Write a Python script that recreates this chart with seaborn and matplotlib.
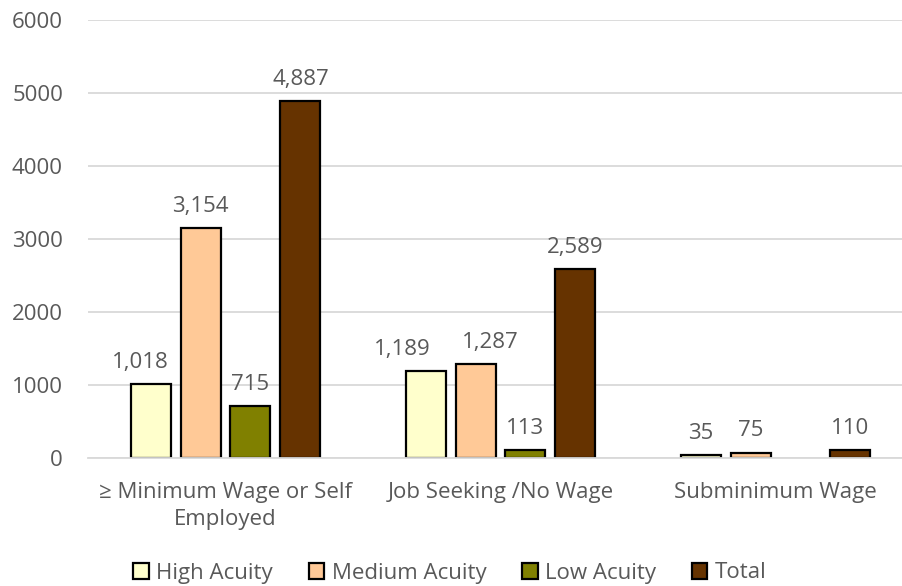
import matplotlib
matplotlib.use("Agg")
import matplotlib.pyplot as plt
import seaborn as sns
import pandas as pd
import numpy as np

categories = ["\u2265 Minimum Wage or Self\nEmployed", "Job Seeking /No Wage", "Subminimum Wage"]
series = ["High Acuity", "Medium Acuity", "Low Acuity", "Total"]
high_acuity = [1018, 1189, 35]
medium_acuity = [3154, 1287, 75]
low_acuity = [715, 113, None]
total = [4887, 2589, 110]
colors = ["#FFFFCC", "#FFC997", "#808000", "#663300"]

rows = []
for s, vals in zip(series, [high_acuity, medium_acuity, low_acuity, total]):
    for c, v in zip(categories, vals):
        if v is not None:
            rows.append({"category": c, "series": s, "value": v})
df = pd.DataFrame(rows)

sns.set_theme(style="white")
plt.rcParams['font.family'] = ['Open Sans', 'DejaVu Sans']

FS = 16
TXT = "#595959"

fig = plt.figure(figsize=(9.02, 5.86), dpi=100)
ax = fig.add_axes([88/902, 1-458/586, (902-88)/902, (458-20)/586])

sns.barplot(data=df, x="category", y="value", hue="series", order=categories,
            hue_order=series, palette=colors, saturation=1, width=0.727, gap=0.2,
            edgecolor="black", linewidth=1.6, ax=ax, legend=True)

# horizontal nudges (points) to keep neighbouring labels apart, as in the reference
nudges = {(0, 0): -7, (0, 1): -17, (1, 1): 11}
for si, cont in enumerate(ax.containers):
    labels = [f"{v:,.0f}" for v in cont.datavalues]
    texts = ax.bar_label(cont, labels=labels, padding=8, fontsize=FS, color=TXT)
    for ci, t in enumerate(texts):
        dx = nudges.get((si, ci), 0)
        if dx:
            x0, y0 = t.xyann
            t.xyann = (x0 + dx, y0)

ax.set_ylim(0, 6000)
ax.set_xlim(-0.5, 2.46)
ax.set_yticks(range(0, 6001, 1000))
ax.yaxis.grid(True, color="#D9D9D9", linewidth=1.3)
ax.set_axisbelow(True)
for sp in ["top", "right", "left"]:
    ax.spines[sp].set_visible(False)
ax.spines["bottom"].set_color("#D9D9D9")
ax.spines["bottom"].set_linewidth(1.3)
ax.tick_params(axis="y", length=0, labelsize=FS, labelcolor=TXT, pad=18)
ax.tick_params(axis="x", length=0, labelsize=FS, labelcolor=TXT, pad=17)
for t in ax.get_xticklabels():
    t.set_linespacing(1.4)
ax.set_xlabel("")
ax.set_ylabel("")

leg = ax.legend(loc="center", bbox_to_anchor=(450/902, 1 - 573/586),
                bbox_transform=fig.transFigure, ncol=4,
                frameon=False, fontsize=FS, handlelength=0.7, handleheight=0.7,
                handletextpad=0.35, columnspacing=1.6, labelcolor=TXT)
for h in leg.legend_handles:
    h.set_linewidth(1.6)

fig.savefig("out.png", dpi=100)
